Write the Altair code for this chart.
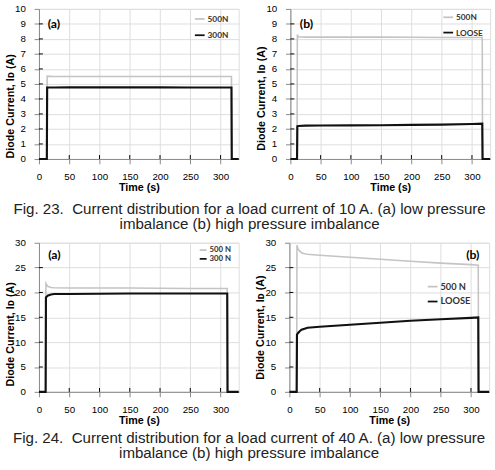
import altair as alt
import pandas as pd

# ---------------- data ----------------
# Fig. 23 (a): 10 A, low pressure imbalance
t_23a = [0, 13, 13.5, 25, 50, 100, 150, 200, 250, 300, 318, 318.5, 330]
i_23a_500N = [0, 0, 5.52, 5.5, 5.5, 5.5, 5.5, 5.5, 5.5, 5.5, 5.5, 0, 0]
i_23a_300N = [0, 0, 4.76, 4.76, 4.77, 4.77, 4.77, 4.77, 4.76, 4.76, 4.76, 0, 0]

# Fig. 23 (b): 10 A, high pressure imbalance
t_23b = [0, 11, 11.5, 13, 25, 50, 100, 150, 200, 250, 300, 317, 317.5, 330]
i_23b_500N = [0, 0, 8.3, 8.15, 8.12, 8.12, 8.12, 8.12, 8.11, 8.1, 8.1, 8.1, 0, 0]
i_23b_LOOSE = [0, 0, 2.18, 2.2, 2.22, 2.23, 2.24, 2.25, 2.27, 2.29, 2.33, 2.35, 0, 0]

# Fig. 24 (a): 40 A, low pressure imbalance
t_24a = [0, 11, 11.5, 13, 15, 20, 25, 50, 100, 150, 200, 250, 300, 311, 311.5, 330]
i_24a_500N = [0, 0, 21.8, 21.5, 21.2, 21.0, 20.95, 20.9, 20.9, 20.9, 20.85, 20.8, 20.8, 20.8, 0, 0]
i_24a_300N = [0, 0, 19.0, 19.2, 19.4, 19.6, 19.7, 19.7, 19.75, 19.8, 19.8, 19.8, 19.8, 19.8, 0, 0]

# Fig. 24 (b): 40 A, high pressure imbalance
t_24b = [0, 12, 12.5, 14, 17, 20, 25, 30, 50, 100, 150, 200, 250, 300, 312, 312.5, 330]
i_24b_500N = [0, 0, 29.5, 28.8, 28.3, 28.0, 27.8, 27.7, 27.5, 27.1, 26.7, 26.3, 25.9, 25.6, 25.5, 0, 0]
i_24b_LOOSE = [0, 0, 11.5, 11.8, 12.2, 12.5, 12.7, 12.9, 13.1, 13.5, 13.9, 14.3, 14.6, 14.9, 15.0, 0, 0]

x_ticks = [0, 50, 100, 150, 200, 250, 300]
y_ticks_10 = [0, 1, 2, 3, 4, 5, 6, 7, 8, 9, 10]
y_ticks_30 = [0, 5, 10, 15, 20, 25, 30]

caption_23 = ["Fig. 23.\u00a0 Current distribution for a load current of 10 A. (a) low pressure",
              "imbalance (b) high pressure imbalance"]
caption_24 = ["Fig. 24.\u00a0 Current distribution for a load current of 40 A. (a) low pressure",
              "imbalance (b) high pressure imbalance"]

# ---------------- styling ----------------
FONT = "Lato"
GRAY = "#c4c4c4"
BLACK = "#111111"
W = 205


def panel(t, n1, v1, n2, v2, ymax, yticks, H, tag, tag_x, tag_y, tag_align,
          leg_x, leg_y, leg_pad, sym_size, leg_font, title_gap):
    d1 = pd.DataFrame({"t": t, "v": v1, "s": n1})
    d2 = pd.DataFrame({"t": t, "v": v2, "s": n2})
    xs = alt.Scale(domain=[0, 330], nice=False)
    ys = alt.Scale(domain=[0, ymax], nice=False)
    color = alt.Color(
        "s:N",
        scale=alt.Scale(domain=[n1, n2], range=[GRAY, BLACK]),
        legend=alt.Legend(
            title=None, orient="none", legendX=leg_x, legendY=leg_y,
            symbolType="stroke", symbolSize=sym_size, symbolStrokeWidth=1.8,
            labelFont=FONT, labelFontWeight="bold", labelFontSize=leg_font,
            labelColor="#333333", labelOffset=2, rowPadding=leg_pad,
            padding=0,
        ),
    )
    xenc = alt.X("t:Q", scale=xs, axis=alt.Axis(
        title="Time (s)", values=x_ticks, labelPadding=8.5, titlePadding=0,
        labelFlush=False))
    yenc = alt.Y("v:Q", scale=ys, axis=alt.Axis(
        title="Diode Current, I\u1d05 (A)", values=yticks, labelPadding=9,
        titlePadding=-1, titleAnchor="start", titleY=H - title_gap,
        labelFlush=False))
    l1 = alt.Chart(d1).mark_line(strokeWidth=1.6).encode(x=xenc, y=yenc, color=color)
    l2 = alt.Chart(d2).mark_line(strokeWidth=2.2).encode(x=xenc, y=yenc, color=color)
    xt = alt.Chart(pd.DataFrame({"t": x_ticks[1:]})).mark_rule(
        color="black", strokeWidth=1).encode(
        x=xenc, y=alt.value(H), y2=alt.value(H - 4))
    yt = alt.Chart(pd.DataFrame({"v": yticks[1:-1]})).mark_rule(
        color="black", strokeWidth=1).encode(
        y=yenc, x=alt.value(0), x2=alt.value(4))
    lab = alt.Chart(pd.DataFrame({"lab": [tag]})).mark_text(
        align=tag_align, baseline="middle", font=FONT, fontWeight="bold",
        fontSize=12.5, color="black").encode(
        x=alt.value(tag_x), y=alt.value(tag_y), text="lab:N")
    return alt.layer(l1, l2, xt, yt, lab).properties(width=W, height=H)


p1 = panel(t_23a, "500N", i_23a_500N, "300N", i_23a_300N, 10, y_ticks_10, 154,
           "(a)", 9, 15.3, "left", 159, 4.3, 5.7, 100, 8.5, 1)
p2 = panel(t_23b, "500N", i_23b_500N, "LOOSE", i_23b_LOOSE, 10, y_ticks_10, 154,
           "(b)", 9.7, 15.3, "left", 156, 2.6, 4.7, 100, 8.5, 9)
p3 = panel(t_24a, "500 N", i_24a_500N, "300 N", i_24a_300N, 30, y_ticks_30, 153,
           "(a)", 9.5, 12.3, "left", 164, 3.0, 0, 50, 8, 6)
p4 = panel(t_24b, "500 N", i_24b_500N, "LOOSE", i_24b_LOOSE, 30, y_ticks_30, 153,
           "(b)", 195, 12.3, "right", 141, 39, 4.3, 100, 9.5, 13)


def cap(lines, off):
    return alt.TitleParams(text=lines, orient="bottom", anchor="middle",
                           font="Liberation Sans", fontSize=15.5,
                           fontWeight="normal", color="#222222",
                           lineHeight=16, offset=off)


row1 = alt.hconcat(p1, p2, spacing=12, title=cap(caption_23, 9)).resolve_scale(color="independent")
row2 = alt.hconcat(p3, p4, spacing=11, title=cap(caption_24, 5)).resolve_scale(color="independent")

chart = alt.vconcat(row1, row2, spacing=4).resolve_scale(color="independent").properties(
    padding={"left": 4, "top": -3, "right": 0, "bottom": 0}
).configure_view(stroke="black", strokeWidth=1.5).configure_axis(
    domain=False, ticks=False, grid=False, labelFlush=False,
    labelFont=FONT, labelFontWeight="bold", labelFontSize=9.5, labelColor="black",
    titleFont=FONT, titleFontWeight="bold", titleFontSize=11.5, titleColor="black",
).configure(background="white")

chart.save("out.html", embed_options={"renderer": "svg", "actions": False})
